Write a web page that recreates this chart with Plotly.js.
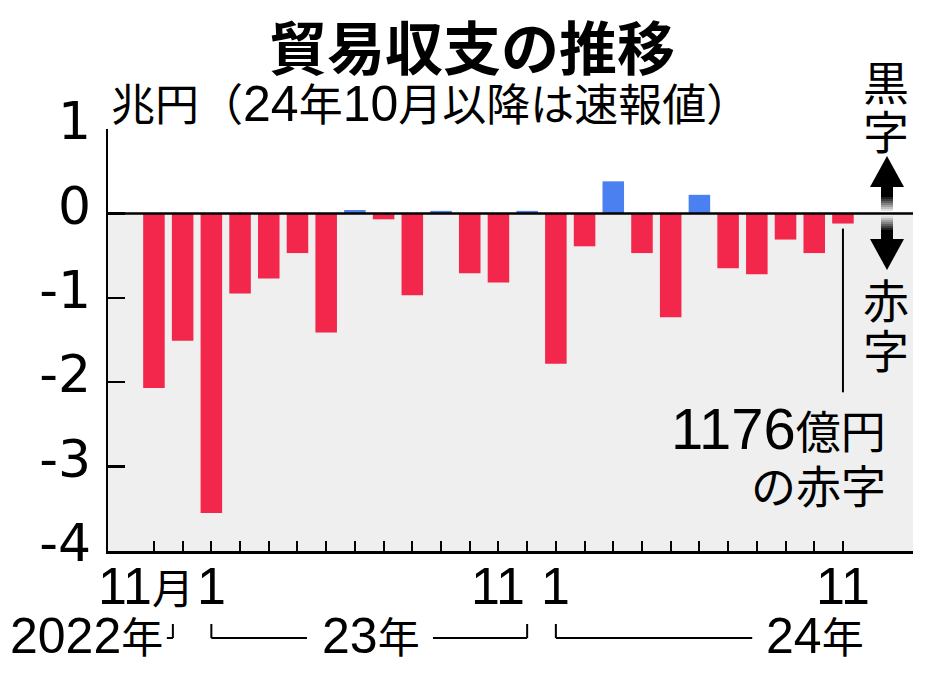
<!DOCTYPE html>
<html><head><meta charset="utf-8">
<script src="https://cdn.plot.ly/plotly-3.0.1.min.js"></script>
<style>html,body{margin:0;padding:0;background:#fff}#chart{width:934px;height:675px}</style>
</head><body><div id="chart"></div>
<script>
// ---- data (兆円) ----
const months = ["2022-11","2022-12","2023-01","2023-02","2023-03","2023-04","2023-05","2023-06","2023-07","2023-08","2023-09","2023-10","2023-11","2023-12","2024-01","2024-02","2024-03","2024-04","2024-05","2024-06","2024-07","2024-08","2024-09","2024-10","2024-11"];
const balance = [-2.07,-1.51,-3.55,-0.95,-0.77,-0.47,-1.41,0.04,-0.07,-0.97,0.03,-0.71,-0.82,0.03,-1.78,-0.39,0.38,-0.47,-1.23,0.22,-0.65,-0.72,-0.31,-0.47,-0.12];
const yTickVals = [-4,-3,-2,-1,0,1];
const yTickText = ["-4","-3","-2","-1","0","1"];
const monthLabelCats = ["2022-11","2023-01","2023-11","2024-01","2024-11"];
const monthLabelTexts = ["11","1","11","1","11"];
const yearLabels = ["2022","23","24"];
const titleText = "貿易収支の推移";
const unitText = "兆円";
const noteText = "24年10月以降は速報値";

// ---- layout helpers (pixel -> paper) ----
const L=108,R=913,T=129,B=551;
const px = X => (X-L)/(R-L);
const py = Y => (B-Y)/(B-T);

const RED='#F2274B', BLUE='#4A80F0';
const FJ='Noto Sans CJK JP';
const FD='Liberation Sans, Noto Sans CJK JP';
const FN='Liberation Sans Narrow, Liberation Sans, Noto Sans CJK JP';
const cjk = (s,size)=>'<span style="font-size:'+size+'px">'+s+'</span>';

const trace = {
  type:'bar', x:months, y:balance,
  marker:{color:balance.map(v=>v<0?RED:BLUE), line:{width:0}},
  hoverinfo:'skip'
};

const shapes = [];
shapes.push({type:'rect',xref:'paper',yref:'y',x0:0,x1:1,y0:-4,y1:0,fillcolor:'#EFEFEF',line:{width:0},layer:'below'});
shapes.push({type:'line',xref:'paper',yref:'y',x0:0,x1:1,y0:0,y1:0,line:{color:'#000',width:2.5},layer:'above'});
const lastIdx = balance.length-1;
shapes.push({type:'line',xref:'x',yref:'y',x0:lastIdx,x1:lastIdx,y0:balance[lastIdx]-0.06,y1:-2.12,line:{color:'#000',width:2}});
const bt = py(624), bb = py(638);
function seg(x0,y0,x1,y1){shapes.push({type:'line',xref:'x',yref:'paper',x0,x1,y0,y1,line:{color:'#000',width:2}});}
seg(0.66,bt,0.66,bb); seg(0.45,bb,0.66,bb);
seg(2,bt,2,bb); seg(2,bb,5.33,bb); seg(9.72,bb,13,bb); seg(13,bb,13,bt);
seg(14,bt,14,bb); seg(14,bb,20.84,bb);
const ax=887, hw=17, sw=6;
function rect(y0,y1,color){shapes.push({type:'rect',xref:'paper',yref:'paper',x0:px(ax-sw),x1:px(ax+sw),y0:py(y0),y1:py(y1),fillcolor:color,line:{width:0}});}
function tri(yBase,yTip){shapes.push({type:'path',xref:'paper',yref:'paper',path:'M '+px(ax-hw)+' '+py(yBase)+' L '+px(ax)+' '+py(yTip)+' L '+px(ax+hw)+' '+py(yBase)+' Z',fillcolor:'#000',line:{width:0}});}
tri(187,156); rect(185,197,'#000');
const steps=7;
for(let i=0;i<steps;i++){const g=Math.round(255*(i+1)/(steps+1));const c='rgb('+g+','+g+','+g+')';rect(197+i*2,199+i*2,c);}
for(let i=0;i<steps;i++){const g=Math.round(255*(steps-i)/(steps+1));const c='rgb('+g+','+g+','+g+')';rect(216+i*2,218+i*2,c);}
rect(230,241,'#000'); tri(239,270);

const ann = [];
function A(o){ann.push(Object.assign({showarrow:false,xanchor:'center',yanchor:'middle',font:{family:FJ,size:46,color:'#000'}},o));}
A({xref:'paper',yref:'paper',x:px(109),y:py(104),xanchor:'left',
   font:{family:FN,size:50,color:'#000'},
   text:cjk(unitText+'（',44)+'24'+cjk('年',44)+'10'+cjk('月以降は速報値）',44)});
A({xref:'paper',yref:'paper',x:px(886),y:py(80),text:'黒'});
A({xref:'paper',yref:'paper',x:px(886),y:py(129),text:'字'});
A({xref:'paper',yref:'paper',x:px(886),y:py(298),text:'赤'});
A({xref:'paper',yref:'paper',x:px(886),y:py(348),text:'字'});
A({xref:'paper',yref:'paper',x:px(888),y:py(428),xanchor:'right',font:{family:FD,size:58,color:'#000'},text:'1176'+cjk('億円',45)});
A({xref:'paper',yref:'paper',x:px(888),y:py(484),xanchor:'right',font:{family:FJ,size:45,color:'#000'},text:'の赤字'});
monthLabelCats.forEach((c,i)=>{
  A({xref:'x',yref:'paper',x:c,y:py(586),
     xshift: i===0?-8:0,
     font:{family:FD,size:52,color:'#000'},
     text: monthLabelTexts[i]+(i===0?cjk('月',42):'')});
});
const yearX=[[px(165),'right'],[px(371),'center'],[px(815),'center']];
yearLabels.forEach((t,i)=>{
  A({xref:'paper',yref:'paper',x:yearX[i][0],xanchor:yearX[i][1],y:py(636),
     font:{family:FD,size:50,color:'#000'},text:t+cjk('年',42)});
});

const layout = {
  width:934,height:675,
  margin:{l:L,r:934-R,t:T,b:675-B,pad:0},
  paper_bgcolor:'#fff',plot_bgcolor:'#fff',
  showlegend:false,bargap:0.25,
  title:{text:titleText,x:472/934,xref:'container',xanchor:'center',y:1-50/675,yref:'container',yanchor:'middle',
         font:{family:FJ,size:58,weight:'bold',color:'#000'}},
  xaxis:{type:'category',range:[-1.6,26.44],showgrid:false,zeroline:false,showline:true,linecolor:'#000',linewidth:2.5,
         ticks:'inside',ticklen:10,tickwidth:2,tickcolor:'#000',tickmode:'array',tickvals:months,showticklabels:false,fixedrange:true},
  yaxis:{range:[-4,1],showgrid:false,zeroline:false,showline:true,linecolor:'#000',linewidth:2.5,
         ticks:'inside',ticklen:17,tickwidth:2.5,tickcolor:'#000',tickmode:'array',tickvals:yTickVals,ticktext:yTickText,
         tickfont:{family:'DejaVu Sans',size:52,color:'#000'},ticklabelstandoff:4,ticklabelshift:-8,fixedrange:true},
  shapes:shapes, annotations:ann
};
Plotly.newPlot('chart',[trace],layout,{displayModeBar:false,staticPlot:true});
</script></body></html>
